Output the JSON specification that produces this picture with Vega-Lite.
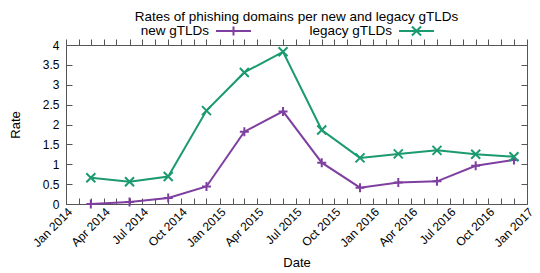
{
  "$schema": "https://vega.github.io/schema/vega-lite/v6.json",
  "width": 461,
  "height": 159,
  "autosize": {"type": "none"},
  "padding": {"left": 66, "top": 45, "right": 13, "bottom": 69},
  "background": "white",
  "title": {"text": "Rates of phishing domains per new and legacy gTLDs", "anchor": "middle", "fontSize": 13.5, "font": "Liberation Sans", "fontWeight": "normal", "color": "#000", "offset": -11},
  "config": {
    "view": {"stroke": null},
    "font": "Liberation Sans",
    "axis": {"labelFont": "Liberation Sans", "titleFont": "Liberation Sans", "labelColor": "#000", "titleColor": "#000", "labelFontSize": 12, "titleFontSize": 13, "titleFontWeight": "normal", "domainColor": "#555", "tickColor": "#555", "grid": false}
  },
  "data": {"values": [
    {"date": "2014-03-01", "series": "new gTLDs", "rate": 0.0},
    {"date": "2014-06-01", "series": "new gTLDs", "rate": 0.05},
    {"date": "2014-09-01", "series": "new gTLDs", "rate": 0.15},
    {"date": "2014-12-01", "series": "new gTLDs", "rate": 0.44},
    {"date": "2015-03-01", "series": "new gTLDs", "rate": 1.82},
    {"date": "2015-06-01", "series": "new gTLDs", "rate": 2.33},
    {"date": "2015-09-01", "series": "new gTLDs", "rate": 1.04},
    {"date": "2015-12-01", "series": "new gTLDs", "rate": 0.41},
    {"date": "2016-03-01", "series": "new gTLDs", "rate": 0.54},
    {"date": "2016-06-01", "series": "new gTLDs", "rate": 0.57},
    {"date": "2016-09-01", "series": "new gTLDs", "rate": 0.96},
    {"date": "2016-12-01", "series": "new gTLDs", "rate": 1.11},
    {"date": "2014-03-01", "series": "legacy gTLDs", "rate": 0.66},
    {"date": "2014-06-01", "series": "legacy gTLDs", "rate": 0.56},
    {"date": "2014-09-01", "series": "legacy gTLDs", "rate": 0.69},
    {"date": "2014-12-01", "series": "legacy gTLDs", "rate": 2.35},
    {"date": "2015-03-01", "series": "legacy gTLDs", "rate": 3.31},
    {"date": "2015-06-01", "series": "legacy gTLDs", "rate": 3.83},
    {"date": "2015-09-01", "series": "legacy gTLDs", "rate": 1.86},
    {"date": "2015-12-01", "series": "legacy gTLDs", "rate": 1.16},
    {"date": "2016-03-01", "series": "legacy gTLDs", "rate": 1.26},
    {"date": "2016-06-01", "series": "legacy gTLDs", "rate": 1.35},
    {"date": "2016-09-01", "series": "legacy gTLDs", "rate": 1.25},
    {"date": "2016-12-01", "series": "legacy gTLDs", "rate": 1.19}
  ]},
  "encoding": {
    "x": {"field": "date", "type": "temporal",
      "scale": {"type": "utc", "domain": [{"year": 2014, "month": 1, "date": 1, "utc": true}, {"year": 2017, "month": 1, "date": 1, "utc": true}]},
      "title": "Date"},
    "y": {"field": "rate", "type": "quantitative", "scale": {"domain": [0, 4], "nice": false, "zero": true}, "title": "Rate"},
    "color": {"field": "series", "type": "nominal", "scale": {"domain": ["new gTLDs", "legacy gTLDs"], "range": ["#7e3fa0", "#1b9a70"]}}
  },
  "layer": [
    {
      "mark": {"type": "line", "strokeWidth": 2},
      "encoding": {
        "x": {"field": "date", "type": "temporal",
          "axis": {"orient": "bottom", "title": "Date", "tickCount": {"interval": "month", "step": 1}, "labelAngle": -45, "labelExpr": "utcmonth(datum.value) % 3 === 0 ? utcFormat(datum.value, '%b %Y') : ''", "tickSize": -6, "labelPadding": 8, "labelOverlap": false, "labelBound": false, "labelFlush": false, "titlePadding": 8,
            "encode": {"ticks": {"update": {"y2": {"signal": "utcmonth(datum.value) % 3 === 0 ? -6 : -3"}}}}}},
        "y": {"field": "rate", "type": "quantitative",
          "axis": {"orient": "left", "values": [0, 0.5, 1, 1.5, 2, 2.5, 3, 3.5, 4], "format": ".1~f", "tickSize": -6, "labelPadding": 13, "titlePadding": 20}},
        "color": {"field": "series", "type": "nominal",
          "legend": {"orient": "none", "direction": "horizontal", "title": null, "legendX": 149, "legendY": -33,
            "symbolSize": 1225, "symbolStrokeWidth": 2, "labelAlign": "right", "labelOffset": -43, "labelFontSize": 13.5, "labelFont": "Liberation Sans", "labelColor": "#000", "columnPadding": 54,
            "encode": {"symbols": {"update": {"shape": {"signal": "datum.value === 'new gTLDs' ? 'M-1,0H1M0,-0.26V0.26' : 'M-1,0H1M-0.26,-0.26L0.26,0.26M-0.26,0.26L0.26,-0.26'"}}}}}}
      }
    },
    {
      "transform": [{"filter": "datum.series === 'new gTLDs'"}],
      "mark": {"type": "point", "filled": false, "strokeWidth": 2, "size": 81, "opacity": 1, "shape": "M-1,0H1M0,-1V1"},
      "encoding": {
        "x": {"field": "date", "type": "temporal",
          "axis": {"orient": "top", "title": null, "labels": false, "tickCount": {"interval": "month", "step": 1}, "tickSize": 6,
            "encode": {"ticks": {"update": {"y2": {"signal": "utcmonth(datum.value) % 3 === 0 ? 6 : 3"}}}}}},
        "y": {"field": "rate", "type": "quantitative",
          "axis": {"orient": "right", "title": null, "labels": false, "values": [0, 0.5, 1, 1.5, 2, 2.5, 3, 3.5, 4], "tickSize": -6}},
        "color": {"field": "series", "type": "nominal", "legend": null}
      }
    },
    {
      "transform": [{"filter": "datum.series === 'legacy gTLDs'"}],
      "mark": {"type": "point", "filled": false, "strokeWidth": 2, "size": 81, "opacity": 1, "shape": "M-1,-1L1,1M-1,1L1,-1"},
      "encoding": {
        "x": {"field": "date", "type": "temporal", "axis": null},
        "y": {"field": "rate", "type": "quantitative", "axis": null},
        "color": {"field": "series", "type": "nominal", "legend": null}
      }
    }
  ]
}
